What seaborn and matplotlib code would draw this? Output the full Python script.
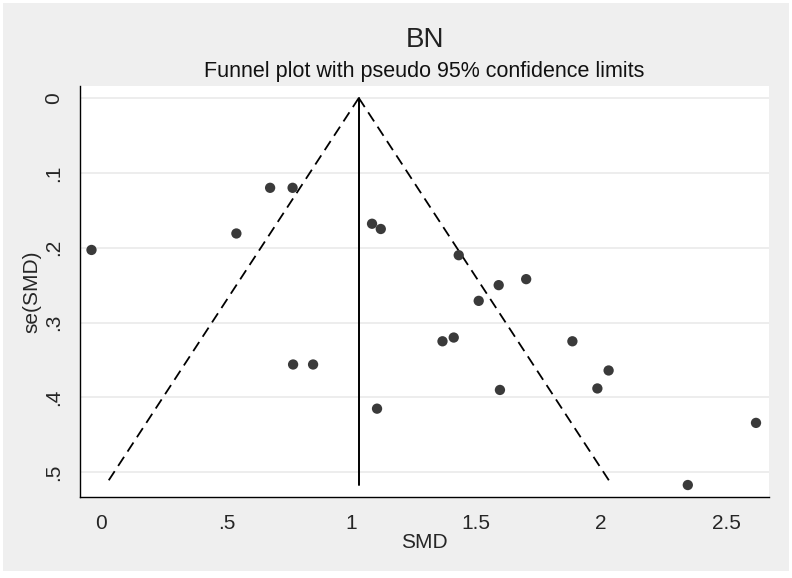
import seaborn as sns
import matplotlib.pyplot as plt
import matplotlib.patches as patches
import pandas as pd
import numpy as np

# Данные: SMD и se(SMD) по исследованиям
smd = [-0.04, 0.54, 0.675, 0.765, 1.083, 1.118, 1.43, 1.59, 1.70, 1.51, 1.365,
       1.41, 1.885, 0.767, 0.847, 2.03, 1.985, 1.595, 1.103, 2.62, 2.347]
se_smd = [0.203, 0.181, 0.120, 0.120, 0.168, 0.175, 0.210, 0.250, 0.242, 0.271, 0.325,
          0.320, 0.325, 0.356, 0.356, 0.364, 0.388, 0.390, 0.415, 0.434, 0.517]
pooled = 1.03  # сводная оценка (вертикальная линия)

data = pd.DataFrame({'SMD': smd, 'se': se_smd})

sns.set_style("white")
plt.rcParams['font.family'] = ['Liberation Sans', 'DejaVu Sans']

fig = plt.figure(figsize=(7.92, 5.78), dpi=100)
fig.patch.set_facecolor('white')
# серый фон в стиле Stata с тонкой белой рамкой
fig.patches.append(patches.Rectangle((3 / 792, 7 / 578), 786 / 792, 568 / 578,
                                     transform=fig.transFigure, facecolor='#efefef',
                                     edgecolor='none', zorder=-10))

ax = fig.add_axes([80 / 792, 81 / 578, 689 / 792, 411 / 578])
ax.set_facecolor('white')

# псевдо 95% доверительные границы
se_max = data['se'].max()
se_line = np.array([0, se_max])
ax.plot(pooled - 1.96 * se_line, se_line, color='black', lw=1.3, ls=(0, (6, 3.5)), zorder=2)
ax.plot(pooled + 1.96 * se_line, se_line, color='black', lw=1.3, ls=(0, (6, 3.5)), zorder=2)
ax.plot([pooled, pooled], se_line, color='black', lw=1.4, zorder=2)

sns.scatterplot(x='SMD', y='se', data=data, ax=ax, color='#3a3a3a', s=55,
                edgecolor='none', zorder=3)

ax.set_xlim(-0.086, 2.672)
ax.set_ylim(0.533, -0.016)
ax.set_xticks([0, 0.5, 1, 1.5, 2, 2.5])
ax.set_xticklabels(['0', '.5', '1', '1.5', '2', '2.5'])
ax.set_yticks([0, 0.1, 0.2, 0.3, 0.4, 0.5])
ax.set_yticklabels(['0', '.1', '.2', '.3', '.4', '.5'], rotation=90, va='center')
ax.yaxis.grid(True, color='#eaeaea', lw=1.2)
ax.xaxis.grid(False)
ax.set_axisbelow(True)

for side in ['top', 'right']:
    ax.spines[side].set_visible(False)
for side in ['left', 'bottom']:
    ax.spines[side].set_color('black')
    ax.spines[side].set_linewidth(1.0)

ax.tick_params(axis='both', which='major', direction='out', length=6, width=1,
               color='black', labelsize=15, pad=6)
ax.set_xlabel('SMD', fontsize=15, labelpad=0)
ax.set_ylabel('se(SMD)', fontsize=15, labelpad=2)

fig.text(424.5 / 792, 1 - 40 / 578, 'BN', fontsize=20, ha='center', va='center', color='#222222')
fig.text(424.5 / 792, 1 - 72 / 578, 'Funnel plot with pseudo 95% confidence limits',
         fontsize=15.5, ha='center', va='center', color='#111111')

fig.savefig('out.png', dpi=100)
